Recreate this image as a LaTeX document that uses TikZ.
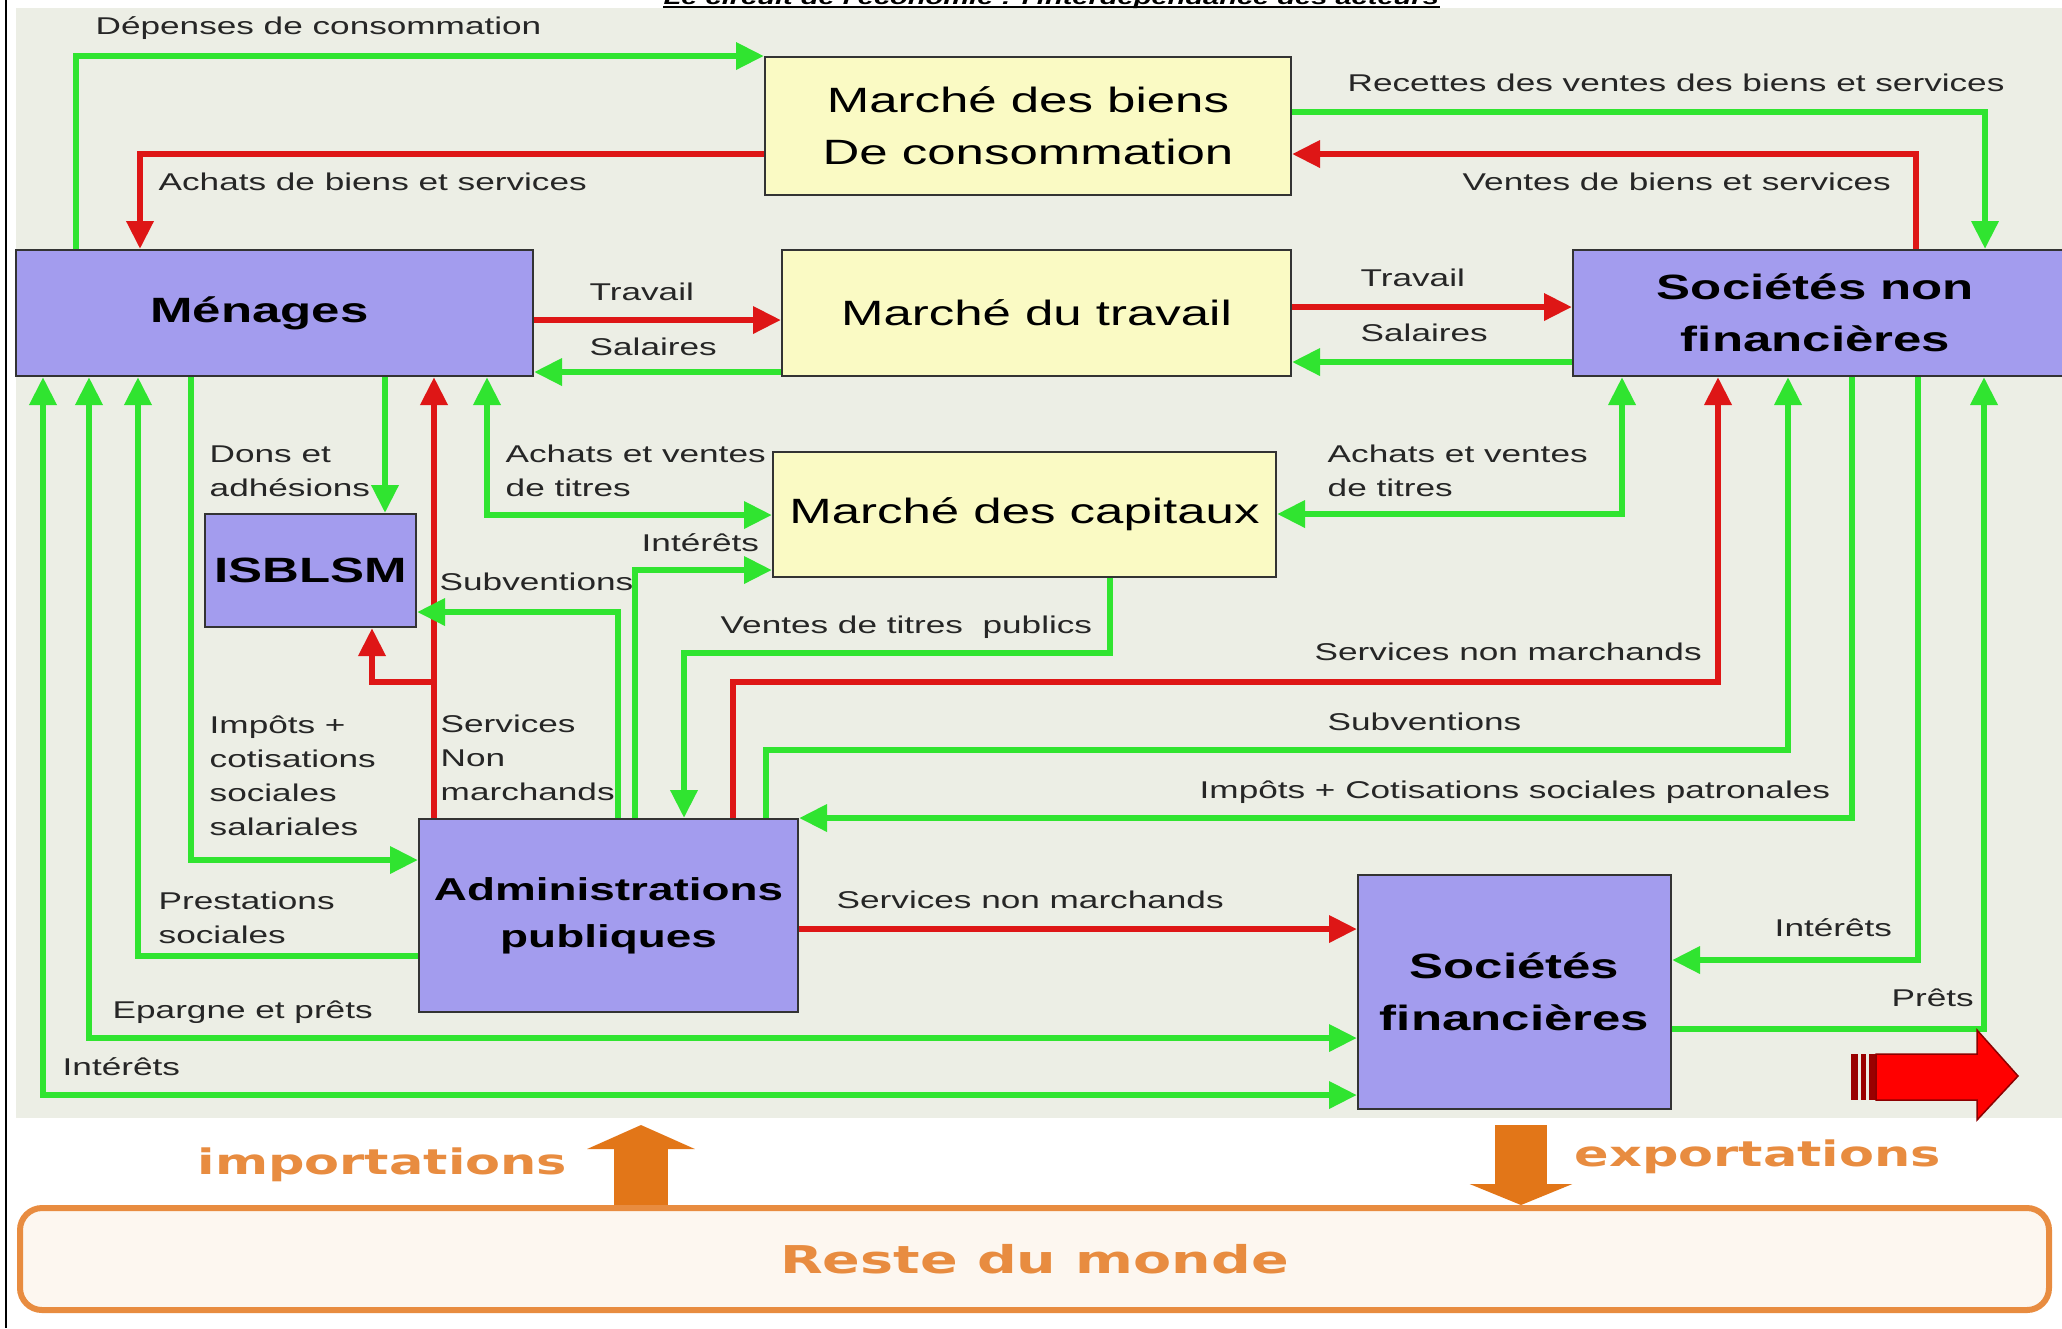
\documentclass[tikz,border=0pt]{standalone}
\usepackage{fontspec}
\setmainfont{Liberation Sans}
\newfontfamily\lab[FakeStretch=1.45]{Liberation Sans}
\newfontfamily\orn[FakeStretch=1.45]{DejaVu Sans}
\usetikzlibrary{arrows.meta}
\definecolor{vert}{RGB}{48,228,48}
\definecolor{rouge}{RGB}{222,22,22}
\definecolor{jaune}{RGB}{250,250,196}
\definecolor{mauve}{RGB}{163,156,238}
\definecolor{fond}{RGB}{236,238,229}
\definecolor{orfonce}{RGB}{226,118,24}
\definecolor{orclair}{RGB}{232,140,64}
\definecolor{rosepale}{RGB}{253,247,240}
\tikzset{
 ybox/.style={draw=black!80, line width=0.2mm, fill=jaune, inner sep=1pt, align=center, font=\lab\fontsize{10}{14.8}\selectfont},
 pbox/.style={draw=black!80, line width=0.2mm, fill=mauve, inner sep=1pt, align=center, font=\lab\bfseries\fontsize{10}{14.8}\selectfont},
 lbl/.style={inner sep=0pt, anchor=west, align=left, font=\lab\fontsize{6.9}{9.7}\selectfont, text=black!85},
 gline/.style={draw=vert, line width=0.65mm, ->},
 rline/.style={draw=rouge, line width=0.65mm, ->},
 olbl/.style={inner sep=0pt, anchor=west, font=\orn\bfseries\fontsize{10}{12}\selectfont, text=orclair}
}
\begin{document}
\begin{tikzpicture}[x=0.1mm, y=-0.1mm, >={Triangle[length=2.8mm,width=2.6mm]}]
\useasboundingbox (0,0) rectangle (2062,1328);
\fill[white] (0,0) rectangle (2062,1328);
\fill[fond] (16,8) rectangle (2062,1118);
\draw[line width=0.25mm] (6,0) -- (6,1328);
\node[anchor=base west, inner sep=0pt, font=\lab\bfseries\itshape\fontsize{5.7}{6}\selectfont] (titre) at (663,4) {Le circuit de l'économie : l'interdépendance des acteurs};
\draw[line width=0.25mm] (663,7) -- (1440,7);
\node[ybox, minimum width=52.6mm, minimum height=13.8mm] (biens) at (1028,126) {Marché des biens\\De consommation};
\node[pbox, minimum width=51.7mm, minimum height=12.6mm] (men) at (274.5,313) {Ménages\hspace*{3mm}};
\node[ybox, minimum width=50.9mm, minimum height=12.6mm] (trav) at (1036.5,313) {Marché du travail};
\node[pbox, minimum width=49.5mm, minimum height=12.6mm] (snf) at (1820.5,313) {Sociétés non\hspace*{1mm}\\financières\hspace*{1mm}};
\node[ybox, minimum width=50.3mm, minimum height=12.5mm] (cap) at (1024.5,514.5) {Marché des capitaux};
\node[pbox, minimum width=21.1mm, minimum height=11.3mm] (isb) at (310.5,570.5) {ISBLSM};
\node[pbox, minimum width=37.9mm, minimum height=19.3mm, font=\lab\bfseries\fontsize{9}{13.4}\selectfont] (adm) at (608.5,915.5) {Administrations\\publiques};
\node[pbox, minimum width=31.3mm, minimum height=23.4mm] (sf) at (1514.5,992) {Sociétés\\financières};
\node[draw=orclair, line width=0.6mm, fill=rosepale, rounded corners=2.2mm, minimum width=202.9mm, minimum height=10.2mm, font=\orn\bfseries\fontsize{10.9}{12}\selectfont, text=orclair] (rdm) at (1034.5,1259) {Reste du monde};
\node[lbl] (ldep) at (95,28) {Dépenses de consommation};
\node[lbl] (lach) at (158,182) {Achats de biens et services};
\node[lbl] (lrec) at (1347,83) {Recettes des ventes des biens et services};
\node[lbl] (lven) at (1462,182) {Ventes de biens et services};
\node[lbl] (ltrav1) at (589,292) {Travail};
\node[lbl] (lsal1) at (589,347) {Salaires};
\node[lbl] (ltrav2) at (1360,278) {Travail};
\node[lbl] (lsal2) at (1360,333) {Salaires};
\node[lbl] (ldons) at (209,471) {Dons et\\adhésions};
\node[lbl] (lavt1) at (505,471) {Achats et ventes\\de titres};
\node[lbl] (lavt2) at (1327,471) {Achats et ventes\\de titres};
\node[lbl] (lint1) at (641,543) {Intérêts};
\node[lbl] (lsubv1) at (439,582) {Subventions};
\node[lbl] (lvtp) at (720,627) {Ventes de titres\ \ publics};
\node[lbl] (lsnm1) at (1314,652) {Services non marchands};
\node[lbl] (lsubv2) at (1327,722) {Subventions};
\node[lbl] (limp1) at (209,776) {Impôts +\\cotisations\\sociales\\salariales};
\node[lbl] (lsnm2) at (440,758) {Services\\Non\\marchands};
\node[lbl] (limp2) at (1199,792) {Impôts + Cotisations sociales patronales};
\node[lbl] (lpres) at (158,918) {Prestations\\sociales};
\node[lbl] (lsnm3) at (836,900) {Services non marchands};
\node[lbl] (lint2) at (1774,928) {Intérêts};
\node[lbl] (lprets) at (1891,998) {Prêts};
\node[lbl] (lepar) at (112,1012) {Epargne et prêts};
\node[lbl] (lint3) at (62,1067) {Intérêts};
\draw[gline] (76,0 |- men.north) |- (biens.north west);
\draw[rline] (biens.west |- 0,154) -| (140,0 |- men.north);
\draw[gline] (biens.east |- 0,112) -| (1985,0 |- snf.north);
\draw[rline] (1916,0 |- snf.north) |- (biens.east |- 0,154);
\draw[rline] (men.east |- 0,320) -- (trav.west |- 0,320);
\draw[gline] (trav.west |- 0,372) -- (men.east |- 0,372);
\draw[rline] (trav.east |- 0,307) -- (snf.west |- 0,307);
\draw[gline] (snf.west |- 0,362) -- (trav.east |- 0,362);
\draw[gline, <->] (43,0 |- men.south) |- (sf.west |- 0,1095);
\draw[gline, <->] (89,0 |- men.south) |- (sf.west |- 0,1038);
\draw[gline] (adm.west |- 0,956) -| (138,0 |- men.south);
\draw[gline] (191,0 |- men.south) |- (adm.west |- 0,860);
\draw[gline] (385,0 |- men.south) -- (385,0 |- isb.north);
\draw[rline] (434,0 |- adm.north) -- (434,0 |- men.south);
\coordinate (brsnm) at (434,682);
\draw[rline] (brsnm) -| (372,0 |- isb.south);
\draw[gline, <->] (487,0 |- men.south) |- (cap.west |- 0,515);
\draw[gline] (618,0 |- adm.north) |- (isb.east |- 0,612);
\draw[gline] (635,0 |- adm.north) |- (cap.west |- 0,570);
\draw[gline] (1110,0 |- cap.south) -- (1110,653) -| (684,0 |- adm.north);
\draw[rline] (733,0 |- adm.north) -- (733,682) -| (1718,0 |- snf.south);
\draw[gline] (766,0 |- adm.north) -- (766,750) -| (1788,0 |- snf.south);
\draw[gline] (1852,0 |- snf.south) |- (adm.north east);
\draw[gline] (1918,0 |- snf.south) |- (sf.east |- 0,960);
\draw[gline] (sf.east |- 0,1029) -| (1984,0 |- snf.south);
\draw[gline, <->] (1622,0 |- snf.south) |- (cap.east |- 0,514);
\draw[rline] (adm.east |- 0,929) -- (sf.west |- 0,929);
\fill[red!60!black] (1851,1054) rectangle (1858,1100);
\fill[red!60!black] (1861,1054) rectangle (1866,1100);
\fill[red!60!black] (1869,1054) rectangle (1876,1100);
\filldraw[fill=red, draw=red!55!black, line width=0.15mm] (1876,1054) -- (1977,1054) -- (1977,1030) -- (2018,1076) -- (1977,1120) -- (1977,1100) -- (1876,1100) -- cycle;
\coordinate (impt) at (641,1125);
\coordinate (expq) at (1521,1125);
\draw[orfonce, line width=5.4mm, -{Triangle[length=2.4mm,width=10.7mm]}] (641,0 |- rdm.north) -- (impt);
\draw[orfonce, line width=5.2mm, -{Triangle[length=2.1mm,width=10.2mm]}] (expq) -- (1521,0 |- rdm.north);
\node[olbl] (limpo) at (197,1165) {importations};
\node[olbl] (lexpo) at (1574,1157) {exportations};
\end{tikzpicture}
\end{document}
